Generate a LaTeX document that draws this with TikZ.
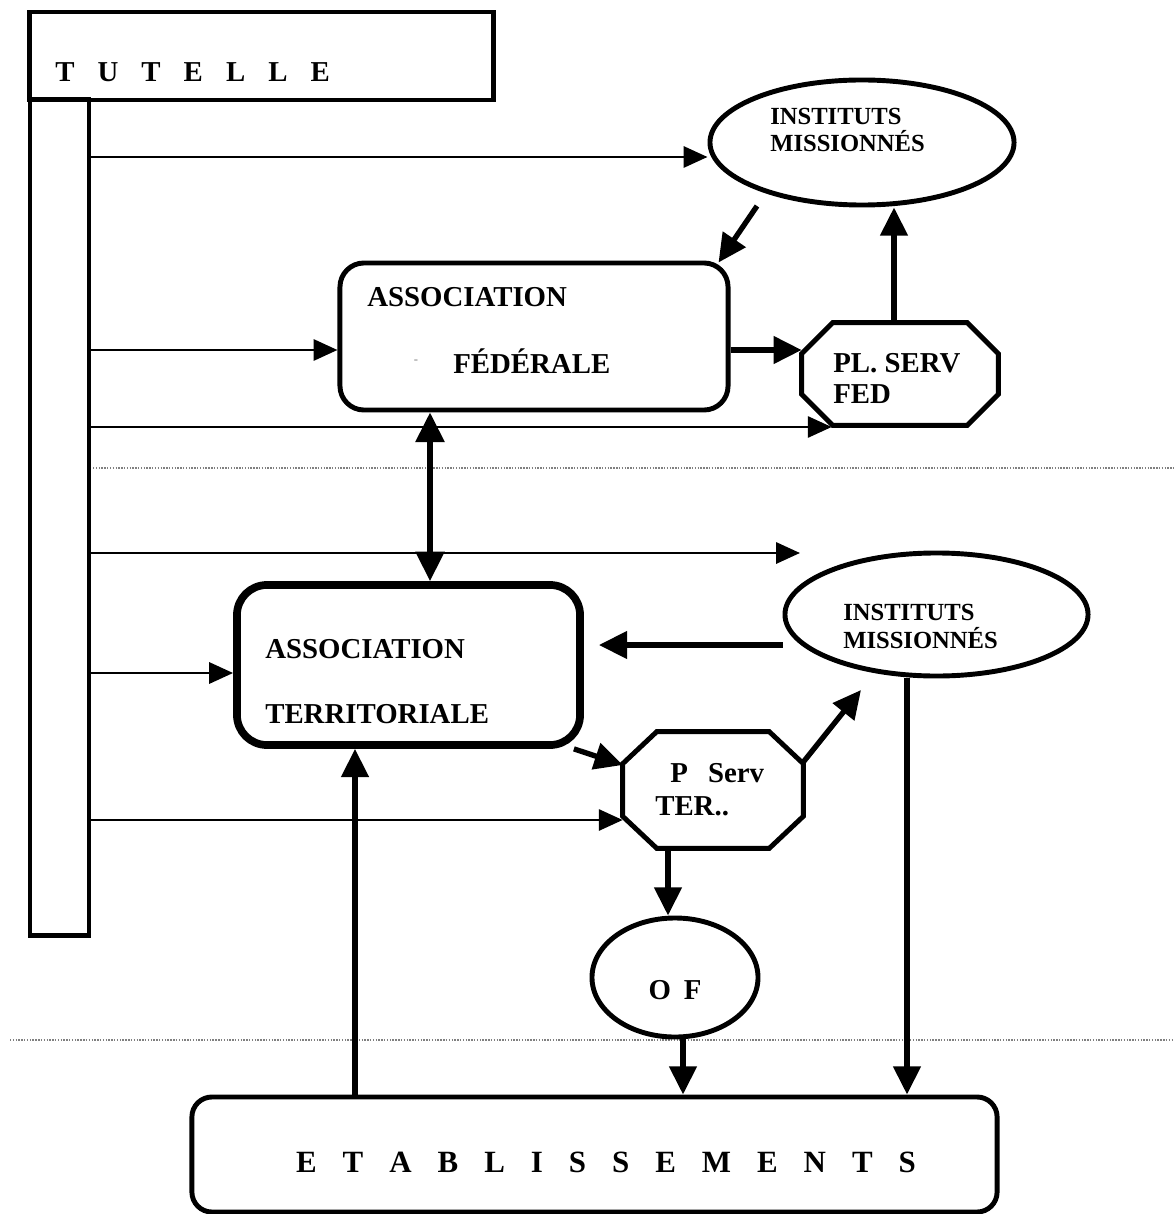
\documentclass[tikz,border=0pt]{standalone}
\usepackage{fontspec}
\setmainfont{Liberation Serif}
\usetikzlibrary{shapes.geometric,arrows.meta,calc}
\newcommand{\lsp}[1][0.8em]{\hspace{#1}}

\begin{document}
\begin{tikzpicture}[x=0.025cm, y=-0.025cm,
	box/.style={draw, line width=3.5pt, inner sep=0pt},
	oval/.style={draw, ellipse, line width=3.5pt, inner sep=0pt},
	lbl/.style={anchor=base west, inner sep=0pt, font=\bfseries\fontsize{20.5}{24}\selectfont},
	small/.style={anchor=base west, inner sep=0pt, font=\bfseries\fontsize{17.5}{20}\selectfont},
	feed/.style={line width=2pt, -{Triangle[length=17pt,width=15pt]}},
	link/.style={line width=3.8pt, -{Triangle[length=20pt,width=19pt]}},
	dbl/.style={line width=3.8pt, {Triangle[length=21pt,width=20pt]}-{Triangle[length=21pt,width=20pt]}},
	sep/.style={gray, line width=1pt, densely dotted}]
\begin{scope}
	\fill[white] (0,0) rectangle (1173,1214);
	\useasboundingbox (0,0) rectangle (1173,1214);
	\draw[sep] (93,468) -- (1173,468);
	\draw[sep] (10,1040) -- (1173,1040);
	\node[box, minimum width=11.575cm, minimum height=2.2cm] (tutelle) at (261.5,56) {};
	\node[box, minimum width=1.475cm, minimum height=20.875cm] (bar) at (59.5,517.5) {};
	\node[lbl] (tuttxt) at (55,82) {T\lsp U\lsp T\lsp E\lsp L\lsp L\lsp E};
	\node[oval, minimum width=7.6cm, minimum height=3.125cm] (insfed) at (862,142.5) {};
	\node[small] (insf1) at (770,125) {INSTITUTS};
	\node[small] (insf2) at (770,152) {MISSIONNÉS};
	\node[box, rounded corners=0.6cm, minimum width=9.7cm, minimum height=3.675cm] (fed) at (534,336.5) {};
	\node[lbl] (fed1) at (367,307) {ASSOCIATION};
	\node[lbl] (fed2) at (453,373) {FÉDÉRALE};
	\node[inner sep=0pt, gray, font=\fontsize{9}{10}\selectfont] (dash) at (416,362) {-};
	\node[inner sep=0pt, minimum width=4.9cm, minimum height=2.55cm] (plfed) at (900,374) {};
	\draw[box] ($(plfed.north west)+(31,0)$) -- ($(plfed.north east)+(-31,0)$) -- ($(plfed.north east)+(0,31)$) -- ($(plfed.south east)+(0,-31)$) -- ($(plfed.south east)+(-31,0)$) -- ($(plfed.south west)+(31,0)$) -- ($(plfed.south west)+(0,-31)$) -- ($(plfed.north west)+(0,31)$) -- cycle;
	\node[lbl] (pl1) at (833,372) {PL. SERV};
	\node[lbl] (pl2) at (833,403) {FED};
	\node[oval, minimum width=7.575cm, minimum height=3.075cm] (instr) at (936.5,614.5) {};
	\node[small] (inst1) at (843,620) {INSTITUTS};
	\node[small] (inst2) at (843,648) {MISSIONNÉS};
	\node[box, line width=5.5pt, rounded corners=0.75cm, minimum width=8.575cm, minimum height=4cm] (ter) at (408.5,665) {};
	\node[lbl] (ter1) at (265,658) {ASSOCIATION};
	\node[lbl] (ter2) at (265,723) {TERRITORIALE};
	\node[inner sep=0pt, minimum width=4.5cm, minimum height=2.9cm] (pter) at (713,790) {};
	\draw[box] ($(pter.north west)+(34,0)$) -- ($(pter.north east)+(-34,0)$) -- ($(pter.north east)+(0,32)$) -- ($(pter.south east)+(0,-32)$) -- ($(pter.south east)+(-34,0)$) -- ($(pter.south west)+(34,0)$) -- ($(pter.south west)+(0,-32)$) -- ($(pter.north west)+(0,32)$) -- cycle;
	\node[lbl] (pt1) at (670,782) {P\hspace{0.7em}Serv};
	\node[lbl] (pt2) at (655,815) {TER..};
	\node[oval, minimum width=4.15cm, minimum height=2.975cm] (of) at (675,977.5) {};
	\node[lbl, anchor=base] (oftxt) at (675,999) {O\hspace{0.45em}F};
	\node[box, rounded corners=0.5cm, minimum width=20.125cm, minimum height=2.875cm] (etab) at (594.5,1154.5) {};
	\node[lbl, anchor=base, font=\bfseries\fontsize{22}{24}\selectfont] (etabtxt) at (606,1172) {E\lsp[0.84em]T\lsp[0.84em]A\lsp[0.84em]B\lsp[0.84em]L\lsp[0.84em]I\lsp[0.84em]S\lsp[0.84em]S\lsp[0.84em]E\lsp[0.84em]M\lsp[0.84em]E\lsp[0.84em]N\lsp[0.84em]T\lsp[0.84em]S};
	\coordinate (t1) at (89,157);
	\coordinate (t2) at (89,350);
	\coordinate (t3) at (89,427);
	\coordinate (t4) at (89,553);
	\coordinate (e4) at (800,553);
	\coordinate (t5) at (89,673);
	\coordinate (t6) at (89,820);
	\coordinate (y5) at (0,645);
	\coordinate (f1) at (757,206);
	\coordinate (f2) at (861,690);
	\coordinate (vx) at (430,0);
	\coordinate (vx2) at (907,0);
	\coordinate (vx3) at (355,0);
	\draw[feed] (t1) -- (t1 -| insfed.west);
	\draw[feed] (t2) -- (t2 -| fed.west);
	\draw[feed] (t3) -- ($(t3 -| plfed.west)+(30,0)$);
	\draw[feed] (t4) -- (e4);
	\draw[feed] (t5) -- (t5 -| ter.west);
	\draw[feed] (t6) -- (t6 -| pter.west);
	\draw[link] (f1) -- ($(fed.north east)+(-12,2)$);
	\draw[link] ($(plfed.north)+(-6,0)$) -- ($(plfed.north |- insfed.south)+(-6,0)$);
	\draw[link] (t2 -| fed.east) -- (t2 -| plfed.west);
	\draw[dbl] (vx |- fed.south) -- (vx |- ter.north);
	\draw[link] (y5 -| instr.west) -- ($(y5 -| ter.east)+(15,0)$);
	\draw[link] ($(ter.south east)+(-10,0)$) -- ($(pter.west)+(0,-25)$);
	\draw[link] ($(pter.east)+(0,-28)$) -- (f2);
	\draw[link] ($(pter.south)+(-45,0)$) -- ($(of.north)+(-7,0)$);
	\draw[link] ($(of.south)+(8,0)$) -- ($(of.south |- etab.north)+(8,0)$);
	\draw[link] (vx2 |- instr.south) -- (vx2 |- etab.north);
	\draw[link] (vx3 |- etab.north) -- (vx3 |- ter.south);
\end{scope}
\end{tikzpicture}
\end{document}
